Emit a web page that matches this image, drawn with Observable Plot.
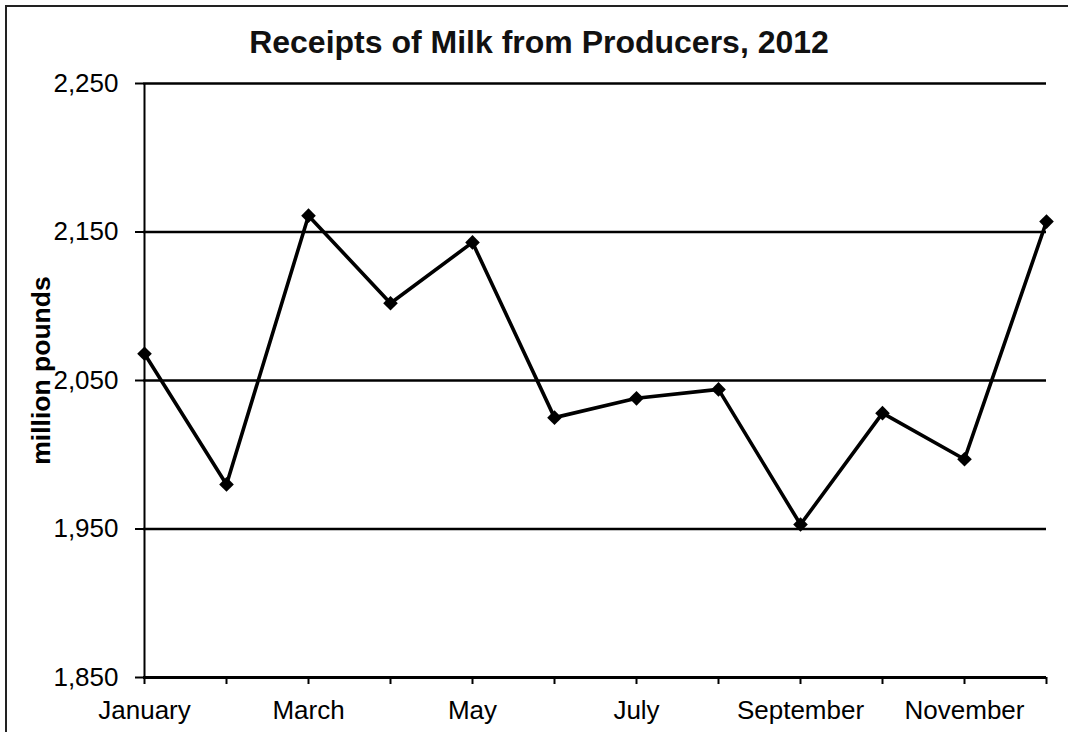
<!DOCTYPE html>
<html><head><meta charset="utf-8">
<script src="https://cdn.jsdelivr.net/npm/d3@7"></script>
<script src="https://cdn.jsdelivr.net/npm/@observablehq/plot@0.6"></script>
<style>
body{margin:0;background:#fff;}
#wrap{position:relative;width:1068px;height:732px;overflow:hidden;background:#fff;font-family:"Liberation Sans",Arial,sans-serif;}
#border{position:absolute;left:5px;top:5px;width:2000px;height:2000px;border-left:2px solid #222;border-top:2px solid #222;}
#title{position:absolute;left:0;top:26px;width:1078px;text-align:center;font-weight:bold;font-size:32px;line-height:32px;color:#111;}
#chart{position:absolute;left:0;top:70px;}
</style></head><body>
<div id="wrap"><div id="border"></div><div id="title">Receipts of Milk from Producers, 2012</div><div id="chart"></div></div>
<script>
const months = ["January","February","March","April","May","June","July","August","September","October","November","December"];
const labeledMonths = ["January","March","May","July","September","November"];
const values = [2068,1980,2161,2102,2143,2025,2038,2044,1953,2028,1997,2157];
const yTicks = [1850,1950,2050,2150,2250];
const yLabel = "million pounds";
const data = months.map((m,i)=>({month:m, value:values[i]}));
const font = '"Liberation Sans", Arial, sans-serif';
const plot = Plot.plot({
  width:1068, height:662,
  marginLeft:143, marginRight:22, marginTop:13, marginBottom:55,
  style:{fontFamily:font, fontSize:"26px", color:"#000", background:"transparent", overflow:"visible"},
  x:{type:"point", domain:months, padding:0},
  y:{domain:[1850,2250]},
  marks:[
    Plot.gridY({ticks:yTicks, stroke:"#000", strokeOpacity:1, strokeWidth:2.5}),
    Plot.ruleY([1850], {stroke:"#000", strokeWidth:3}),
    Plot.ruleX([months[0]], {stroke:"#000", strokeWidth:2}),
    Plot.axisY({ticks:yTicks, tickFormat:d3.format(","), tickSize:8, tickPadding:17, label:null, strokeWidth:2, fontSize:26}),
    Plot.axisX({ticks:months, tickSize:7, tickPadding:16, tickFormat:d => labeledMonths.includes(d) ? d : "", label:null, strokeWidth:2, fontSize:26}),
    Plot.line(data, {x:"month", y:"value", stroke:"#000", strokeWidth:3.6}),
    Plot.dot(data, {x:"month", y:"value", symbol:"diamond2", r:6.6, fill:"#000"}),
    Plot.text([yLabel], {frameAnchor:"left", text:d=>d, rotate:-90, dx:-102, dy:-10, fontWeight:"bold", fontSize:26.5, textAnchor:"middle", lineAnchor:"middle", fill:"#000"})
  ]
});
document.getElementById("chart").appendChild(plot);
</script>
</body></html>
